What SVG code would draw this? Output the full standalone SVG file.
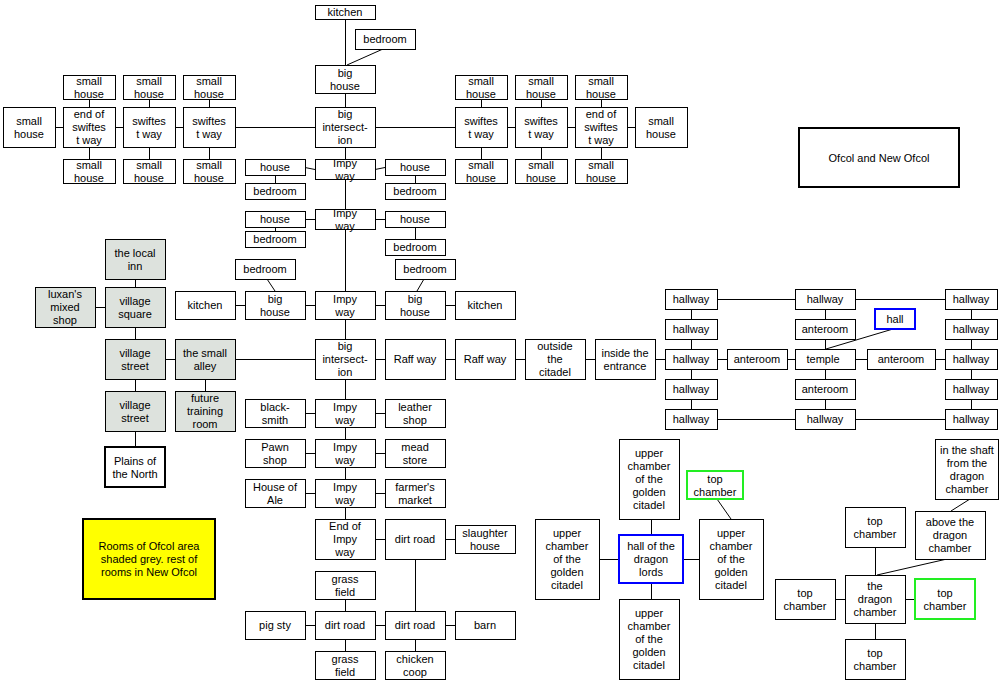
<svg xmlns="http://www.w3.org/2000/svg" width="1000" height="683" viewBox="0 0 1000 683">
<style>
rect{fill:#fff;stroke:#000;stroke-width:1}
.g rect{fill:#dde2dd}
.thick rect{stroke-width:2}
.y rect{fill:#ffff00;stroke-width:2}
.b rect{stroke:#0000ff;stroke-width:2}
.gr rect{stroke:#22ee22;stroke-width:2}
text{font-family:"Liberation Sans",Arial,sans-serif;font-size:11px;text-anchor:middle;fill:#000}
#connectors line{stroke:#000;stroke-width:1}
</style>
<rect x="0" y="0" width="1000" height="683" style="fill:#fff;stroke:none"/>
<g id="connectors">
<line x1="345.5" y1="19" x2="345.5" y2="65"/>
<line x1="383" y1="49" x2="347" y2="65"/>
<line x1="345.5" y1="93" x2="345.5" y2="107"/>
<line x1="235" y1="127.5" x2="315" y2="127.5"/>
<line x1="375" y1="127.5" x2="455" y2="127.5"/>
<line x1="55" y1="127.5" x2="63" y2="127.5"/>
<line x1="115" y1="127.5" x2="123" y2="127.5"/>
<line x1="175" y1="127.5" x2="183" y2="127.5"/>
<line x1="507" y1="127.5" x2="515" y2="127.5"/>
<line x1="567" y1="127.5" x2="575" y2="127.5"/>
<line x1="627" y1="127.5" x2="635" y2="127.5"/>
<line x1="89.5" y1="99" x2="89.5" y2="107"/>
<line x1="149.5" y1="99" x2="149.5" y2="107"/>
<line x1="209.5" y1="99" x2="209.5" y2="107"/>
<line x1="89.5" y1="147" x2="89.5" y2="159"/>
<line x1="149.5" y1="147" x2="149.5" y2="159"/>
<line x1="209.5" y1="147" x2="209.5" y2="159"/>
<line x1="481.5" y1="99" x2="481.5" y2="107"/>
<line x1="541.5" y1="99" x2="541.5" y2="107"/>
<line x1="601.5" y1="99" x2="601.5" y2="107"/>
<line x1="481.5" y1="147" x2="481.5" y2="159"/>
<line x1="541.5" y1="147" x2="541.5" y2="159"/>
<line x1="601.5" y1="147" x2="601.5" y2="159"/>
<line x1="345.5" y1="147" x2="345.5" y2="159"/>
<line x1="345.5" y1="179" x2="345.5" y2="209"/>
<line x1="345.5" y1="229" x2="345.5" y2="291"/>
<line x1="345.5" y1="319" x2="345.5" y2="339"/>
<line x1="345.5" y1="379" x2="345.5" y2="399"/>
<line x1="345.5" y1="427" x2="345.5" y2="439"/>
<line x1="345.5" y1="467" x2="345.5" y2="479"/>
<line x1="345.5" y1="507" x2="345.5" y2="519"/>
<line x1="305" y1="167.5" x2="315" y2="169.5"/>
<line x1="375" y1="169.5" x2="385" y2="167.5"/>
<line x1="275.5" y1="175" x2="275.5" y2="183"/>
<line x1="415.5" y1="175" x2="415.5" y2="183"/>
<line x1="305" y1="219.5" x2="315" y2="219.5"/>
<line x1="375" y1="219.5" x2="385" y2="219.5"/>
<line x1="275.5" y1="227" x2="275.5" y2="231"/>
<line x1="415.5" y1="227" x2="415.5" y2="239"/>
<line x1="267" y1="279" x2="275" y2="291"/>
<line x1="424" y1="279" x2="417" y2="291"/>
<line x1="235" y1="305.5" x2="245" y2="305.5"/>
<line x1="305" y1="305.5" x2="315" y2="305.5"/>
<line x1="375" y1="305.5" x2="385" y2="305.5"/>
<line x1="445" y1="305.5" x2="455" y2="305.5"/>
<line x1="235" y1="359.5" x2="315" y2="359.5"/>
<line x1="375" y1="359.5" x2="385" y2="359.5"/>
<line x1="445" y1="359.5" x2="455" y2="359.5"/>
<line x1="515" y1="359.5" x2="525" y2="359.5"/>
<line x1="585" y1="359.5" x2="595" y2="359.5"/>
<line x1="655" y1="359.5" x2="665" y2="359.5"/>
<line x1="305" y1="413.5" x2="315" y2="413.5"/>
<line x1="375" y1="413.5" x2="385" y2="413.5"/>
<line x1="305" y1="453.5" x2="315" y2="453.5"/>
<line x1="375" y1="453.5" x2="385" y2="453.5"/>
<line x1="305" y1="493.5" x2="315" y2="493.5"/>
<line x1="375" y1="493.5" x2="385" y2="493.5"/>
<line x1="375" y1="539.5" x2="385" y2="539.5"/>
<line x1="445" y1="539.5" x2="455" y2="539.5"/>
<line x1="415.5" y1="559" x2="415.5" y2="611"/>
<line x1="345.5" y1="599" x2="345.5" y2="611"/>
<line x1="305" y1="625.5" x2="315" y2="625.5"/>
<line x1="375" y1="625.5" x2="385" y2="625.5"/>
<line x1="445" y1="625.5" x2="455" y2="625.5"/>
<line x1="345.5" y1="639" x2="345.5" y2="651"/>
<line x1="415.5" y1="639" x2="415.5" y2="651"/>
<line x1="135.5" y1="279" x2="135.5" y2="287"/>
<line x1="135.5" y1="327" x2="135.5" y2="339"/>
<line x1="135.5" y1="379" x2="135.5" y2="391"/>
<line x1="135.5" y1="431" x2="135.5" y2="447"/>
<line x1="95" y1="307.5" x2="105" y2="307.5"/>
<line x1="165" y1="359.5" x2="175" y2="359.5"/>
<line x1="205.5" y1="379" x2="205.5" y2="391"/>
<line x1="717" y1="299.5" x2="795" y2="299.5"/>
<line x1="855" y1="299.5" x2="945" y2="299.5"/>
<line x1="717" y1="419.5" x2="795" y2="419.5"/>
<line x1="855" y1="419.5" x2="945" y2="419.5"/>
<line x1="691.5" y1="309" x2="691.5" y2="319"/>
<line x1="691.5" y1="339" x2="691.5" y2="349"/>
<line x1="691.5" y1="369" x2="691.5" y2="379"/>
<line x1="691.5" y1="399" x2="691.5" y2="409"/>
<line x1="825.5" y1="309" x2="825.5" y2="319"/>
<line x1="825.5" y1="339" x2="825.5" y2="349"/>
<line x1="825.5" y1="369" x2="825.5" y2="379"/>
<line x1="825.5" y1="399" x2="825.5" y2="409"/>
<line x1="971.5" y1="309" x2="971.5" y2="319"/>
<line x1="971.5" y1="339" x2="971.5" y2="349"/>
<line x1="971.5" y1="369" x2="971.5" y2="379"/>
<line x1="971.5" y1="399" x2="971.5" y2="409"/>
<line x1="717" y1="359.5" x2="727" y2="359.5"/>
<line x1="787" y1="359.5" x2="795" y2="359.5"/>
<line x1="855" y1="359.5" x2="867" y2="359.5"/>
<line x1="935" y1="359.5" x2="945" y2="359.5"/>
<line x1="893" y1="329" x2="826" y2="349"/>
<line x1="651.5" y1="519" x2="651.5" y2="535"/>
<line x1="651.5" y1="583" x2="651.5" y2="599"/>
<line x1="599" y1="559.5" x2="619" y2="559.5"/>
<line x1="683" y1="559.5" x2="699" y2="559.5"/>
<line x1="717" y1="499" x2="731" y2="519"/>
<line x1="970" y1="499" x2="951" y2="511"/>
<line x1="947" y1="559" x2="877" y2="575"/>
<line x1="875.5" y1="547" x2="875.5" y2="575"/>
<line x1="875.5" y1="623" x2="875.5" y2="639"/>
<line x1="835" y1="599.5" x2="845" y2="599.5"/>
<line x1="905" y1="599.5" x2="915" y2="599.5"/>
</g>
<g id="kitchen_top"><rect x="315.5" y="5.5" width="60" height="14"/><text x="345" y="16">kitchen</text></g>
<g id="bedroom_top"><rect x="355.5" y="29.5" width="60" height="20"/><text x="385" y="43">bedroom</text></g>
<g id="bighouse_top"><rect x="315.5" y="65.5" width="60" height="28"/><text x="345" y="76.5">big<tspan x="345" dy="13">house</tspan></text></g>
<g id="bigint_top"><rect x="315.5" y="107.5" width="60" height="40"/><text x="345" y="118">big<tspan x="345" dy="13">intersect-</tspan><tspan x="345" dy="13">ion</tspan></text></g>
<g id="sh_far_left"><rect x="3.5" y="107.5" width="52" height="40"/><text x="29" y="124.5">small<tspan x="29" dy="13">house</tspan></text></g>
<g id="end_sw_left"><rect x="63.5" y="107.5" width="52" height="40"/><text x="89" y="118">end of<tspan x="89" dy="13">swiftes</tspan><tspan x="89" dy="13">t way</tspan></text></g>
<g id="sw_l1"><rect x="123.5" y="107.5" width="52" height="40"/><text x="149" y="124.5">swiftes<tspan x="149" dy="13">t way</tspan></text></g>
<g id="sw_l2"><rect x="183.5" y="107.5" width="52" height="40"/><text x="209" y="124.5">swiftes<tspan x="209" dy="13">t way</tspan></text></g>
<g id="sh_lt1"><rect x="63.5" y="75.5" width="52" height="24"/><text x="89" y="84.5">small<tspan x="89" dy="13">house</tspan></text></g>
<g id="sh_lt2"><rect x="123.5" y="75.5" width="52" height="24"/><text x="149" y="84.5">small<tspan x="149" dy="13">house</tspan></text></g>
<g id="sh_lt3"><rect x="183.5" y="75.5" width="52" height="24"/><text x="209" y="84.5">small<tspan x="209" dy="13">house</tspan></text></g>
<g id="sh_lb1"><rect x="63.5" y="159.5" width="52" height="24"/><text x="89" y="168.5">small<tspan x="89" dy="13">house</tspan></text></g>
<g id="sh_lb2"><rect x="123.5" y="159.5" width="52" height="24"/><text x="149" y="168.5">small<tspan x="149" dy="13">house</tspan></text></g>
<g id="sh_lb3"><rect x="183.5" y="159.5" width="52" height="24"/><text x="209" y="168.5">small<tspan x="209" dy="13">house</tspan></text></g>
<g id="sw_r1"><rect x="455.5" y="107.5" width="52" height="40"/><text x="481" y="124.5">swiftes<tspan x="481" dy="13">t way</tspan></text></g>
<g id="sw_r2"><rect x="515.5" y="107.5" width="52" height="40"/><text x="541" y="124.5">swiftes<tspan x="541" dy="13">t way</tspan></text></g>
<g id="end_sw_right"><rect x="575.5" y="107.5" width="52" height="40"/><text x="601" y="118">end of<tspan x="601" dy="13">swiftes</tspan><tspan x="601" dy="13">t way</tspan></text></g>
<g id="sh_far_right"><rect x="635.5" y="107.5" width="52" height="40"/><text x="661" y="124.5">small<tspan x="661" dy="13">house</tspan></text></g>
<g id="sh_rt1"><rect x="455.5" y="75.5" width="52" height="24"/><text x="481" y="84.5">small<tspan x="481" dy="13">house</tspan></text></g>
<g id="sh_rt2"><rect x="515.5" y="75.5" width="52" height="24"/><text x="541" y="84.5">small<tspan x="541" dy="13">house</tspan></text></g>
<g id="sh_rt3"><rect x="575.5" y="75.5" width="52" height="24"/><text x="601" y="84.5">small<tspan x="601" dy="13">house</tspan></text></g>
<g id="sh_rb1"><rect x="455.5" y="159.5" width="52" height="24"/><text x="481" y="168.5">small<tspan x="481" dy="13">house</tspan></text></g>
<g id="sh_rb2"><rect x="515.5" y="159.5" width="52" height="24"/><text x="541" y="168.5">small<tspan x="541" dy="13">house</tspan></text></g>
<g id="sh_rb3"><rect x="575.5" y="159.5" width="52" height="24"/><text x="601" y="168.5">small<tspan x="601" dy="13">house</tspan></text></g>
<g id="house_l1"><rect x="245.5" y="159.5" width="60" height="16"/><text x="275" y="171">house</text></g>
<g id="bedroom_l1"><rect x="245.5" y="183.5" width="60" height="16"/><text x="275" y="195">bedroom</text></g>
<g id="impy1"><rect x="315.5" y="159.5" width="60" height="20"/><text x="345" y="166.5">Impy<tspan x="345" dy="13">way</tspan></text></g>
<g id="house_r1"><rect x="385.5" y="159.5" width="60" height="16"/><text x="415" y="171">house</text></g>
<g id="bedroom_r1"><rect x="385.5" y="183.5" width="60" height="16"/><text x="415" y="195">bedroom</text></g>
<g id="house_l2"><rect x="245.5" y="211.5" width="60" height="16"/><text x="275" y="223">house</text></g>
<g id="bedroom_l2"><rect x="245.5" y="231.5" width="60" height="16"/><text x="275" y="243">bedroom</text></g>
<g id="impy2"><rect x="315.5" y="209.5" width="60" height="20"/><text x="345" y="216.5">Impy<tspan x="345" dy="13">way</tspan></text></g>
<g id="house_r2"><rect x="385.5" y="211.5" width="60" height="16"/><text x="415" y="223">house</text></g>
<g id="bedroom_r2"><rect x="385.5" y="239.5" width="60" height="16"/><text x="415" y="251">bedroom</text></g>
<g id="bedroom_l3"><rect x="235.5" y="259.5" width="60" height="20"/><text x="265" y="273">bedroom</text></g>
<g id="bedroom_r3"><rect x="395.5" y="259.5" width="60" height="20"/><text x="425" y="273">bedroom</text></g>
<g id="kitchen_l"><rect x="175.5" y="291.5" width="60" height="28"/><text x="205" y="309">kitchen</text></g>
<g id="bighouse_l"><rect x="245.5" y="291.5" width="60" height="28"/><text x="275" y="302.5">big<tspan x="275" dy="13">house</tspan></text></g>
<g id="impy3"><rect x="315.5" y="291.5" width="60" height="28"/><text x="345" y="302.5">Impy<tspan x="345" dy="13">way</tspan></text></g>
<g id="bighouse_r"><rect x="385.5" y="291.5" width="60" height="28"/><text x="415" y="302.5">big<tspan x="415" dy="13">house</tspan></text></g>
<g id="kitchen_r"><rect x="455.5" y="291.5" width="60" height="28"/><text x="485" y="309">kitchen</text></g>
<g id="bigint2"><rect x="315.5" y="339.5" width="60" height="40"/><text x="345" y="350">big<tspan x="345" dy="13">intersect-</tspan><tspan x="345" dy="13">ion</tspan></text></g>
<g id="raff1"><rect x="385.5" y="339.5" width="60" height="40"/><text x="415" y="363">Raff way</text></g>
<g id="raff2"><rect x="455.5" y="339.5" width="60" height="40"/><text x="485" y="363">Raff way</text></g>
<g id="outside"><rect x="525.5" y="339.5" width="60" height="40"/><text x="555" y="350">outside<tspan x="555" dy="13">the</tspan><tspan x="555" dy="13">citadel</tspan></text></g>
<g id="inside"><rect x="595.5" y="339.5" width="60" height="40"/><text x="625" y="356.5">inside the<tspan x="625" dy="13">entrance</tspan></text></g>
<g id="blacksmith"><rect x="245.5" y="399.5" width="60" height="28"/><text x="275" y="410.5">black-<tspan x="275" dy="13">smith</tspan></text></g>
<g id="impy4"><rect x="315.5" y="399.5" width="60" height="28"/><text x="345" y="410.5">Impy<tspan x="345" dy="13">way</tspan></text></g>
<g id="leather"><rect x="385.5" y="399.5" width="60" height="28"/><text x="415" y="410.5">leather<tspan x="415" dy="13">shop</tspan></text></g>
<g id="pawn"><rect x="245.5" y="439.5" width="60" height="28"/><text x="275" y="450.5">Pawn<tspan x="275" dy="13">shop</tspan></text></g>
<g id="impy5"><rect x="315.5" y="439.5" width="60" height="28"/><text x="345" y="450.5">Impy<tspan x="345" dy="13">way</tspan></text></g>
<g id="mead"><rect x="385.5" y="439.5" width="60" height="28"/><text x="415" y="450.5">mead<tspan x="415" dy="13">store</tspan></text></g>
<g id="ale"><rect x="245.5" y="479.5" width="60" height="28"/><text x="275" y="490.5">House of<tspan x="275" dy="13">Ale</tspan></text></g>
<g id="impy6"><rect x="315.5" y="479.5" width="60" height="28"/><text x="345" y="490.5">Impy<tspan x="345" dy="13">way</tspan></text></g>
<g id="farmer"><rect x="385.5" y="479.5" width="60" height="28"/><text x="415" y="490.5">farmer's<tspan x="415" dy="13">market</tspan></text></g>
<g id="endimpy"><rect x="315.5" y="519.5" width="60" height="40"/><text x="345" y="530">End of<tspan x="345" dy="13">Impy</tspan><tspan x="345" dy="13">way</tspan></text></g>
<g id="dirt1"><rect x="385.5" y="519.5" width="60" height="40"/><text x="415" y="543">dirt road</text></g>
<g id="slaughter"><rect x="455.5" y="525.5" width="60" height="28"/><text x="485" y="536.5">slaughter<tspan x="485" dy="13">house</tspan></text></g>
<g id="grass1"><rect x="315.5" y="571.5" width="60" height="28"/><text x="345" y="582.5">grass<tspan x="345" dy="13">field</tspan></text></g>
<g id="pigsty"><rect x="245.5" y="611.5" width="60" height="28"/><text x="275" y="629">pig sty</text></g>
<g id="dirt2"><rect x="315.5" y="611.5" width="60" height="28"/><text x="345" y="629">dirt road</text></g>
<g id="dirt3"><rect x="385.5" y="611.5" width="60" height="28"/><text x="415" y="629">dirt road</text></g>
<g id="barn"><rect x="455.5" y="611.5" width="60" height="28"/><text x="485" y="629">barn</text></g>
<g id="grass2"><rect x="315.5" y="651.5" width="60" height="28"/><text x="345" y="662.5">grass<tspan x="345" dy="13">field</tspan></text></g>
<g id="chicken"><rect x="385.5" y="651.5" width="60" height="28"/><text x="415" y="662.5">chicken<tspan x="415" dy="13">coop</tspan></text></g>
<g id="inn" class="g"><rect x="105.5" y="239.5" width="60" height="40"/><text x="135" y="256.5">the local<tspan x="135" dy="13">inn</tspan></text></g>
<g id="square" class="g"><rect x="105.5" y="287.5" width="60" height="40"/><text x="135" y="304.5">village<tspan x="135" dy="13">square</tspan></text></g>
<g id="luxan" class="g"><rect x="35.5" y="287.5" width="60" height="40"/><text x="65" y="298">luxan's<tspan x="65" dy="13">mixed</tspan><tspan x="65" dy="13">shop</tspan></text></g>
<g id="street1" class="g"><rect x="105.5" y="339.5" width="60" height="40"/><text x="135" y="356.5">village<tspan x="135" dy="13">street</tspan></text></g>
<g id="alley" class="g"><rect x="175.5" y="339.5" width="60" height="40"/><text x="205" y="356.5">the small<tspan x="205" dy="13">alley</tspan></text></g>
<g id="street2" class="g"><rect x="105.5" y="391.5" width="60" height="40"/><text x="135" y="408.5">village<tspan x="135" dy="13">street</tspan></text></g>
<g id="training" class="g"><rect x="175.5" y="391.5" width="60" height="40"/><text x="205" y="402">future<tspan x="205" dy="13">training</tspan><tspan x="205" dy="13">room</tspan></text></g>
<g id="plains" class="thick"><rect x="105" y="447" width="60" height="40"/><text x="135" y="464.5">Plains of<tspan x="135" dy="13">the North</tspan></text></g>
<g id="legend" class="y"><rect x="83" y="519" width="132" height="80"/><text x="149" y="550">Rooms of Ofcol area<tspan x="149" dy="13">shaded grey. rest of</tspan><tspan x="149" dy="13">rooms in New Ofcol</tspan></text></g>
<g id="title" class="thick"><rect x="799" y="128" width="160" height="59"/><text x="879" y="161.5">Ofcol and New Ofcol</text></g>
<g id="hw_1a"><rect x="665.5" y="289.5" width="52" height="20"/><text x="691" y="303">hallway</text></g>
<g id="hw_1b"><rect x="665.5" y="319.5" width="52" height="20"/><text x="691" y="333">hallway</text></g>
<g id="hw_1c"><rect x="665.5" y="349.5" width="52" height="20"/><text x="691" y="363">hallway</text></g>
<g id="hw_1d"><rect x="665.5" y="379.5" width="52" height="20"/><text x="691" y="393">hallway</text></g>
<g id="hw_1e"><rect x="665.5" y="409.5" width="52" height="20"/><text x="691" y="423">hallway</text></g>
<g id="hw_2a"><rect x="795.5" y="289.5" width="60" height="20"/><text x="825" y="303">hallway</text></g>
<g id="ante_top"><rect x="795.5" y="319.5" width="60" height="20"/><text x="825" y="333">anteroom</text></g>
<g id="temple"><rect x="795.5" y="349.5" width="60" height="20"/><text x="823" y="363">temple</text></g>
<g id="ante_bottom"><rect x="795.5" y="379.5" width="60" height="20"/><text x="825" y="393">anteroom</text></g>
<g id="hw_2e"><rect x="795.5" y="409.5" width="60" height="20"/><text x="825" y="423">hallway</text></g>
<g id="hw_3a"><rect x="945.5" y="289.5" width="52" height="20"/><text x="971" y="303">hallway</text></g>
<g id="hw_3b"><rect x="945.5" y="319.5" width="52" height="20"/><text x="971" y="333">hallway</text></g>
<g id="hw_3c"><rect x="945.5" y="349.5" width="52" height="20"/><text x="971" y="363">hallway</text></g>
<g id="hw_3d"><rect x="945.5" y="379.5" width="52" height="20"/><text x="971" y="393">hallway</text></g>
<g id="hw_3e"><rect x="945.5" y="409.5" width="52" height="20"/><text x="971" y="423">hallway</text></g>
<g id="ante_left"><rect x="727.5" y="349.5" width="60" height="20"/><text x="757" y="363">anteroom</text></g>
<g id="ante_right"><rect x="867.5" y="349.5" width="68" height="20"/><text x="901" y="363">anteroom</text></g>
<g id="hall" class="b"><rect x="875" y="309" width="40" height="20"/><text x="895" y="323">hall</text></g>
<g id="uc_top"><rect x="619.5" y="439.5" width="60" height="80"/><text x="649" y="457">upper<tspan x="649" dy="13">chamber</tspan><tspan x="649" dy="13">of the</tspan><tspan x="649" dy="13">golden</tspan><tspan x="649" dy="13">citadel</tspan></text></g>
<g id="tc_green1" class="gr"><rect x="687" y="471" width="56" height="28"/><text x="715" y="482.5">top<tspan x="715" dy="13">chamber</tspan></text></g>
<g id="uc_left"><rect x="535.5" y="519.5" width="64" height="80"/><text x="567" y="537">upper<tspan x="567" dy="13">chamber</tspan><tspan x="567" dy="13">of the</tspan><tspan x="567" dy="13">golden</tspan><tspan x="567" dy="13">citadel</tspan></text></g>
<g id="hall_dragon" class="b"><rect x="619" y="535" width="64" height="48"/><text x="651" y="550">hall of the<tspan x="651" dy="13">dragon</tspan><tspan x="651" dy="13">lords</tspan></text></g>
<g id="uc_right"><rect x="699.5" y="519.5" width="64" height="80"/><text x="731" y="537">upper<tspan x="731" dy="13">chamber</tspan><tspan x="731" dy="13">of the</tspan><tspan x="731" dy="13">golden</tspan><tspan x="731" dy="13">citadel</tspan></text></g>
<g id="uc_bottom"><rect x="619.5" y="599.5" width="60" height="80"/><text x="649" y="617">upper<tspan x="649" dy="13">chamber</tspan><tspan x="649" dy="13">of the</tspan><tspan x="649" dy="13">golden</tspan><tspan x="649" dy="13">citadel</tspan></text></g>
<g id="shaft"><rect x="935.5" y="439.5" width="63" height="60"/><text x="967" y="453.5">in the shaft<tspan x="967" dy="13">from the</tspan><tspan x="967" dy="13">dragon</tspan><tspan x="967" dy="13">chamber</tspan></text></g>
<g id="above"><rect x="915.5" y="511.5" width="70" height="48"/><text x="950" y="526">above the<tspan x="950" dy="13">dragon</tspan><tspan x="950" dy="13">chamber</tspan></text></g>
<g id="tc_up"><rect x="845.5" y="507.5" width="60" height="40"/><text x="875" y="524.5">top<tspan x="875" dy="13">chamber</tspan></text></g>
<g id="dragon"><rect x="845.5" y="575.5" width="60" height="48"/><text x="875" y="590">the<tspan x="875" dy="13">dragon</tspan><tspan x="875" dy="13">chamber</tspan></text></g>
<g id="tc_left"><rect x="775.5" y="579.5" width="60" height="40"/><text x="805" y="596.5">top<tspan x="805" dy="13">chamber</tspan></text></g>
<g id="tc_green2" class="gr"><rect x="915" y="579" width="60" height="40"/><text x="945" y="596.5">top<tspan x="945" dy="13">chamber</tspan></text></g>
<g id="tc_bottom"><rect x="845.5" y="639.5" width="60" height="40"/><text x="875" y="656.5">top<tspan x="875" dy="13">chamber</tspan></text></g>
</svg>
